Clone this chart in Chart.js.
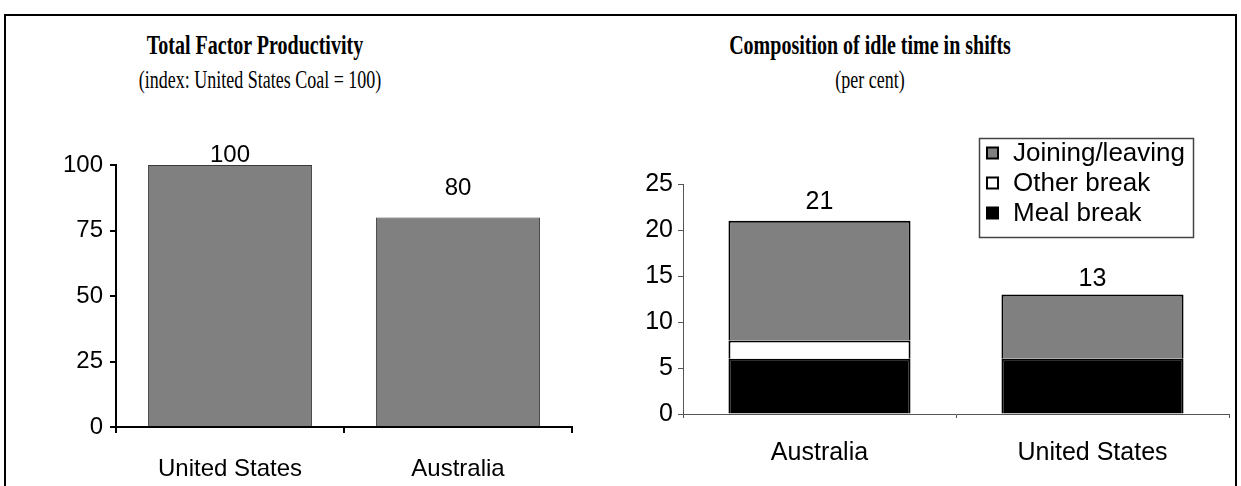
<!DOCTYPE html>
<html>
<head>
<meta charset="utf-8">
<script src="https://cdn.jsdelivr.net/npm/chart.js@4.4.1/dist/chart.umd.min.js"></script>
<style>
  html, body { margin: 0; padding: 0; background: #fff; }
  body { width: 1241px; height: 486px; position: relative; overflow: hidden; }
  .frame { position: absolute; left: 4px; top: 14px; width: 1233px; height: 500px;
           border: 2px solid #000; box-sizing: border-box; }
  .ttl { position: absolute; width: 420px; text-align: center; color: #000;
         font-family: "Liberation Serif", "Times New Roman", serif; line-height: 24px;
         white-space: nowrap; transform-origin: 50% 50%; }
  .ttl.b { font-weight: bold; font-size: 20px; transform: scaleY(1.32); }
  .ttl.s { font-size: 18px; transform: scaleY(1.45); }
  canvas { position: absolute; }
  #tfp { left: 0; top: 100px; }
  #idle { left: 620px; top: 100px; }
</style>
</head>
<body>
<div class="frame"></div>
<div class="ttl b" style="left:45px; top:33px;">Total Factor Productivity</div>
<div class="ttl s" style="left:50px; top:67px;">(index: United States Coal = 100)</div>
<div class="ttl b" style="left:660px; top:33px;">Composition of idle time in shifts</div>
<div class="ttl s" style="left:660px; top:67px;">(per cent)</div>
<canvas id="tfp" width="620" height="386"></canvas>
<canvas id="idle" width="621" height="386"></canvas>
<script>
// Total factor productivity index (United States coal = 100)
const tfpCategories = ['United States', 'Australia'];
const tfpValues = [100, 80];
const tfpTicks = [0, 25, 50, 75, 100];

// Idle time in shifts, per cent, by component
const idleCategories = ['Australia', 'United States'];
const mealBreak = [6, 6];
const otherBreak = [2, 0];
const joiningLeaving = [13, 7];
const idleTotals = [21, 13];
const idleTicks = [0, 5, 10, 15, 20, 25];

const SANS = '"Liberation Sans", Arial, sans-serif';

Chart.defaults.animation = false;
Chart.defaults.responsive = false;
Chart.defaults.font.family = SANS;
Chart.defaults.color = '#000';

// Writes a value above each bar (uses the top dataset's bar elements)
const valueLabels = {
  id: 'valueLabels',
  afterDatasetsDraw(chart, args, opts) {
    const ctx = chart.ctx;
    const last = chart.getDatasetMeta(chart.data.datasets.length - 1);
    ctx.save();
    ctx.font = opts.size + 'px ' + SANS;
    ctx.fillStyle = '#000';
    ctx.textAlign = 'center';
    ctx.textBaseline = 'alphabetic';
    last.data.forEach((bar, i) => {
      ctx.fillText(String(opts.values[i]), bar.x, bar.y - opts.gap[i]);
    });
    ctx.restore();
  }
};

// Boxed legend drawn inside the plot, last series listed first
const boxLegend = {
  id: 'boxLegend',
  afterDraw(chart, args, o) {
    const ctx = chart.ctx;
    ctx.save();
    ctx.fillStyle = '#fff';
    ctx.fillRect(o.x, o.y, o.w, o.h);
    ctx.strokeStyle = '#444';
    ctx.lineWidth = 1.5;
    ctx.strokeRect(o.x + 0.5, o.y + 0.5, o.w, o.h);
    ctx.font = o.size + 'px ' + SANS;
    ctx.textBaseline = 'middle';
    ctx.textAlign = 'left';
    const sets = chart.data.datasets.slice().reverse();
    sets.forEach((ds, i) => {
      const cy = o.y + o.first + i * o.step;
      const mx = o.x + o.markX;
      ctx.fillStyle = ds.backgroundColor;
      ctx.fillRect(mx, cy - o.mark / 2, o.mark, o.mark);
      ctx.strokeStyle = '#000';
      ctx.lineWidth = 2;
      ctx.strokeRect(mx, cy - o.mark / 2, o.mark, o.mark);
      ctx.fillStyle = '#000';
      ctx.fillText(ds.label, o.x + o.textX, cy + 1);
    });
    ctx.restore();
  }
};

new Chart(document.getElementById('tfp'), {
  type: 'bar',
  data: {
    labels: tfpCategories,
    datasets: [{
      label: 'TFP index',
      data: tfpValues,
      backgroundColor: '#808080',
      borderColor: '#3a3a3a',
      borderWidth: 1,
      borderSkipped: 'bottom',
      categoryPercentage: 1,
      barPercentage: 0.72
    }]
  },
  options: {
    layout: { padding: { left: 0, right: 48, top: 65, bottom: 0 } },
    plugins: {
      legend: { display: false },
      tooltip: { enabled: false },
      valueLabels: { values: tfpValues, size: 24, gap: [3, 22] }
    },
    scales: {
      x: {
        grid: { display: true, drawOnChartArea: false, tickLength: 6, color: '#000', lineWidth: 2, offset: true },
        border: { display: true, color: '#000', width: 2 },
        ticks: { font: { size: 24 }, padding: 22, color: '#000' },
        afterFit(s) { s.height = 59; }
      },
      y: {
        min: 0, max: 100,
        afterBuildTicks(s) { s.ticks = tfpTicks.map(v => ({ value: v })); },
        grid: { display: true, drawOnChartArea: false, tickLength: 6, color: '#000', lineWidth: 2 },
        border: { display: true, color: '#000', width: 2 },
        ticks: { font: { size: 24 }, padding: 7, color: '#000' },
        afterFit(s) { s.width = 116; }
      }
    }
  },
  plugins: [valueLabels]
});

new Chart(document.getElementById('idle'), {
  type: 'bar',
  data: {
    labels: idleCategories,
    datasets: [
      { label: 'Meal break', data: mealBreak, backgroundColor: '#000000' },
      { label: 'Other break', data: otherBreak, backgroundColor: '#ffffff' },
      { label: 'Joining/leaving', data: joiningLeaving, backgroundColor: '#808080' }
    ].map(d => Object.assign(d, {
      borderColor: '#000', borderWidth: 2, borderSkipped: 'bottom',
      categoryPercentage: 1, barPercentage: 0.667
    }))
  },
  options: {
    layout: { padding: { left: 0, right: 12, top: 84, bottom: 0 } },
    plugins: {
      legend: { display: false },
      tooltip: { enabled: false },
      valueLabels: { values: idleTotals, size: 25, gap: [12, 8] },
      boxLegend: { x: 359, y: 38, w: 214, h: 99, first: 15, step: 30, mark: 11, markX: 8, textX: 34, size: 26 }
    },
    scales: {
      x: {
        stacked: true,
        grid: { display: true, drawOnChartArea: false, tickLength: 4, color: '#555', lineWidth: 1, offset: true },
        border: { display: true, color: '#555', width: 1 },
        ticks: { font: { size: 25 }, padding: 20, color: '#000' },
        afterFit(s) { s.height = 72; }
      },
      y: {
        stacked: true,
        min: 0, max: 25,
        afterBuildTicks(s) { s.ticks = idleTicks.map(v => ({ value: v })); },
        grid: { display: true, drawOnChartArea: false, tickLength: 5, color: '#555', lineWidth: 1 },
        border: { display: true, color: '#555', width: 1 },
        ticks: { font: { size: 25 }, padding: 5, color: '#000' },
        afterFit(s) { s.width = 63; }
      }
    }
  },
  plugins: [valueLabels, boxLegend]
});
</script>
</body>
</html>
